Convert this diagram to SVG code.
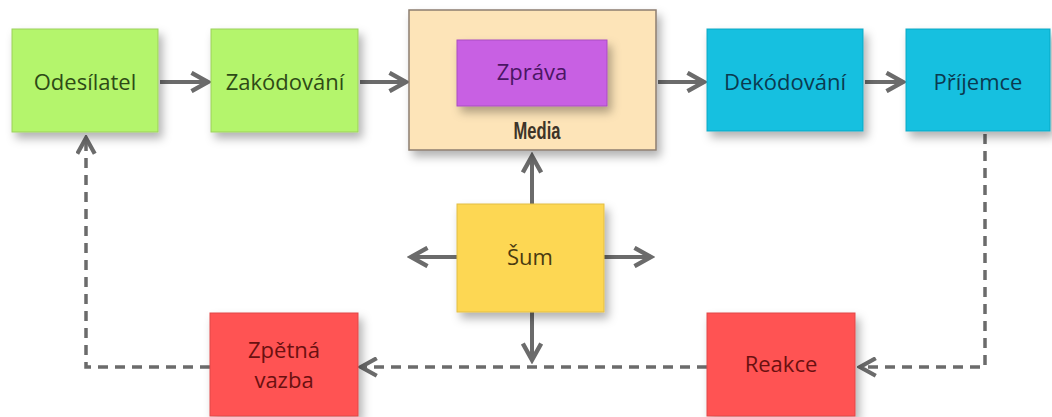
<svg xmlns="http://www.w3.org/2000/svg" width="1052" height="417" viewBox="0 0 1052 417">
<style>
.lbl{font-family:"Open Sans","Noto Sans",sans-serif;font-size:22px;text-anchor:middle}
.solid{stroke:#6b6b6b;stroke-width:4;fill:none}
.dash{stroke:#6b6b6b;stroke-width:3.5;fill:none;stroke-dasharray:10 7}
</style>
<defs>
<filter id="sh" x="-20%" y="-20%" width="150%" height="160%">
<feDropShadow dx="4" dy="6" stdDeviation="5" flood-color="#000" flood-opacity="0.3"/>
</filter>
<marker id="ah" viewBox="0 0 12 12" refX="10" refY="6" markerWidth="5.5" markerHeight="5.5" markerUnits="strokeWidth" orient="auto">
<path d="M1,1 L10,6 L1,11" fill="none" stroke="#6b6b6b" stroke-width="2.4" stroke-linejoin="miter"/>
</marker>
<marker id="ahd" viewBox="0 0 12 12" refX="10" refY="6" markerWidth="6" markerHeight="6" markerUnits="strokeWidth" orient="auto">
<path d="M1,1 L10,6 L1,11" fill="none" stroke="#6b6b6b" stroke-width="2.4"/>
</marker>
</defs>
<rect width="1052" height="417" fill="#fff"/>
<g id="connectors">
<line class="solid" x1="160" y1="82" x2="208" y2="82" marker-end="url(#ah)"/>
<line class="solid" x1="360" y1="82" x2="406" y2="82" marker-end="url(#ah)"/>
<line class="solid" x1="658" y1="82" x2="704" y2="82" marker-end="url(#ah)"/>
<line class="solid" x1="865" y1="82" x2="903" y2="82" marker-end="url(#ah)"/>
<line class="solid" x1="532" y1="204" x2="532" y2="156" marker-end="url(#ah)"/>
<line class="solid" x1="457" y1="257" x2="411" y2="257" marker-end="url(#ah)"/>
<line class="solid" x1="604" y1="257" x2="651" y2="257" marker-end="url(#ah)"/>
<line class="solid" x1="532" y1="312" x2="532" y2="360" marker-end="url(#ah)"/>
<polyline class="dash" points="985,134 985,367 860,367" marker-end="url(#ahd)"/>
<line class="dash" x1="707" y1="367" x2="361" y2="367" marker-end="url(#ahd)"/>
<polyline class="dash" points="210,367 86,367 86,138" marker-end="url(#ahd)"/>
</g>
<g id="odesilatel">
<rect x="12" y="29" width="146" height="103" fill="#b4f56c" stroke="#9ccf5c" filter="url(#sh)"/>
<text class="lbl" x="85" y="90" fill="#2e4a16">Odesílatel</text>
</g>
<g id="zakodovani">
<rect x="211" y="29" width="147" height="103" fill="#b4f56c" stroke="#9ccf5c" filter="url(#sh)"/>
<text class="lbl" x="285" y="90" fill="#2e4a16">Zakódování</text>
</g>
<g id="media">
<rect x="409" y="10" width="247" height="140" fill="#fde4b8" stroke="#8c7e70" stroke-width="1.5" filter="url(#sh)"/>
<text x="537" y="139" font-family="'Liberation Sans',sans-serif" font-size="23" font-weight="bold" fill="#3e3428" text-anchor="middle" transform="translate(537,0) scale(0.72,1) translate(-537,0)">Media</text>
</g>
<g id="zprava">
<rect x="457" y="40" width="150" height="66" fill="#c860e3" stroke="#a94cc2" filter="url(#sh)"/>
<text class="lbl" x="532" y="80" fill="#4a1664">Zpráva</text>
</g>
<g id="dekodovani">
<rect x="707" y="29" width="156" height="102" fill="#13c0e0" stroke="#10a8c4" filter="url(#sh)"/>
<text class="lbl" x="785" y="90" fill="#0b3a50">Dekódování</text>
</g>
<g id="prijemce">
<rect x="906" y="29" width="144" height="102" fill="#13c0e0" stroke="#10a8c4" filter="url(#sh)"/>
<text class="lbl" x="978" y="90" fill="#0b3a50">Příjemce</text>
</g>
<g id="sum">
<rect x="457" y="204" width="147" height="108" fill="#fdd752" stroke="#e2bd45" filter="url(#sh)"/>
<text class="lbl" x="530" y="265" fill="#4a3a10">Šum</text>
</g>
<g id="zpetna-vazba">
<rect x="210" y="313" width="148" height="103" fill="#ff5252" stroke="#e04848" filter="url(#sh)"/>
<text class="lbl" x="284" y="358" fill="#6a1010">Zpětná</text>
<text class="lbl" x="284" y="388" fill="#6a1010">vazba</text>
</g>
<g id="reakce">
<rect x="707" y="313" width="148" height="103" fill="#ff5252" stroke="#e04848" filter="url(#sh)"/>
<text class="lbl" x="781" y="372" fill="#6a1010">Reakce</text>
</g>
</svg>
